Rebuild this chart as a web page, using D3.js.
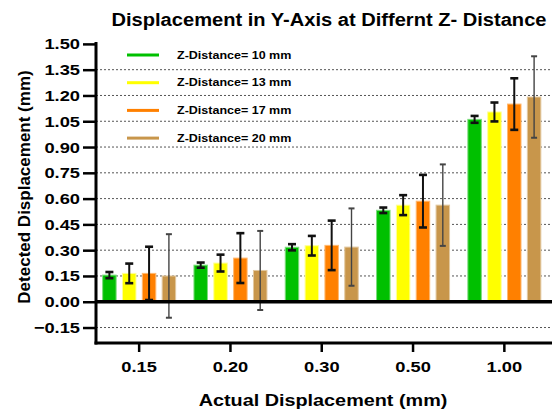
<!DOCTYPE html>
<html>
<head>
<meta charset="utf-8">
<script src="https://cdn.jsdelivr.net/npm/d3@7"></script>
<style>
  html, body { margin: 0; padding: 0; background: #fff; }
  svg { display: block; font-family: "Liberation Sans", Arial, sans-serif; }
</style>
</head>
<body>
<svg id="chart" width="552" height="411"></svg>
<script>
// Actual displacement categories (mm)
const categories = ["0.15", "0.20", "0.30", "0.50", "1.00"];
// Series names (Z-distance)
const seriesNames = ["Z-Distance= 10 mm", "Z-Distance= 13 mm", "Z-Distance= 17 mm", "Z-Distance= 20 mm"];
// Mean detected displacement per series (mm)
const z10 = [0.155, 0.213, 0.317, 0.532, 1.061];
const z13 = [0.165, 0.225, 0.326, 0.562, 1.104];
const z17 = [0.165, 0.254, 0.328, 0.585, 1.150];
const z20 = [0.150, 0.182, 0.318, 0.562, 1.191];
// Error (± SD) per series
const z10Err = [0.018, 0.015, 0.018, 0.016, 0.020];
const z13Err = [0.057, 0.049, 0.057, 0.058, 0.055];
const z17Err = [0.155, 0.145, 0.144, 0.153, 0.150];
const z20Err = [0.243, 0.230, 0.225, 0.237, 0.237];
// Y tick values
const yTicks = [-0.15, 0, 0.15, 0.30, 0.45, 0.60, 0.75, 0.90, 1.05, 1.20, 1.35, 1.50];

const values = [z10, z13, z17, z20];
const errors = [z10Err, z13Err, z17Err, z20Err];
const fills = ["#00c000", "#ffff00", "#ff8000", "#c8964b"];
const edges = ["#7ddc7d", "#ffff99", "#ffb870", "#e2c8a0"];
const errColors = ["#111", "#111", "#111", "#444"];
const errWidths = [2, 2, 2, 1.4];
const WIDE = 1.18; // horizontal widening of the bold labels

// widen text horizontally, keeping its anchor
function widen(sel, f) {
  sel.each(function () {
    const len = this.getComputedTextLength();
    d3.select(this).attr("textLength", len * f).attr("lengthAdjust", "spacingAndGlyphs");
  });
}

const svg = d3.select("#chart");

const y = d3.scaleLinear().domain([-0.24, 1.5]).range([343, 43.9]);
const x0 = d3.scaleBand().domain(categories).range([93.5, 550]).padding(0);
const x1 = d3.scaleBand().domain(d3.range(4)).range([-36.5, 36.5]).paddingInner(0.32);

// Dotted gridlines
svg.append("g").selectAll("line")
  .data(yTicks.filter(t => t !== 0 && t !== 1.5))
  .join("line")
  .attr("x1", 96).attr("x2", 552)
  .attr("y1", d => y(d)).attr("y2", d => y(d))
  .attr("stroke", "#555").attr("stroke-width", 1)
  .attr("stroke-dasharray", "2,2");

// Bars
const rows = [];
categories.forEach((c, i) => {
  values.forEach((s, k) => rows.push({ c, k, v: s[i], e: errors[k][i] }));
});

svg.append("g").selectAll("rect")
  .data(rows)
  .join("rect")
  .attr("x", d => x0(d.c) + x0.bandwidth() / 2 + x1(d.k))
  .attr("width", x1.bandwidth())
  .attr("y", d => y(d.v))
  .attr("height", d => y(0) - y(d.v))
  .attr("fill", d => fills[d.k])
  .attr("stroke", d => edges[d.k])
  .attr("stroke-width", 1);

// Error bars
const eb = svg.append("g");
rows.forEach(d => {
  const cx = x0(d.c) + x0.bandwidth() / 2 + x1(d.k) + x1.bandwidth() / 2;
  const col = errColors[d.k], w = errWidths[d.k];
  const cap = d.k === 3 ? 3 : 4;
  eb.append("line").attr("x1", cx).attr("x2", cx)
    .attr("y1", y(d.v + d.e)).attr("y2", y(d.v - d.e))
    .attr("stroke", col).attr("stroke-width", w);
  [d.v + d.e, d.v - d.e].forEach(t => {
    eb.append("line").attr("x1", cx - cap).attr("x2", cx + cap)
      .attr("y1", y(t)).attr("y2", y(t))
      .attr("stroke", col).attr("stroke-width", w + 0.6);
  });
});

// Zero line
svg.append("line")
  .attr("x1", 96).attr("x2", 552)
  .attr("y1", y(0)).attr("y2", y(0))
  .attr("stroke", "#000").attr("stroke-width", 3.5);

// Y axis
const yAxis = svg.append("g")
  .attr("transform", "translate(96,0)")
  .call(d3.axisLeft(y).tickValues(yTicks).tickFormat(d3.format(".2f")).tickSize(13).tickSizeOuter(0));
yAxis.select(".domain").attr("stroke-width", 3).attr("d", `M0,${y(1.5) - 2}V${y(-0.24) + 1.5}`);
yAxis.selectAll(".tick line").attr("stroke-width", 2.5);
yAxis.selectAll(".tick text")
  .attr("x", -16)
  .attr("font-size", 15.5).attr("font-weight", "bold")
  .attr("font-family", "Liberation Sans, Arial, sans-serif").attr("fill", "#000")
  .call(widen, WIDE);

// X axis
const xAxis = svg.append("g")
  .attr("transform", `translate(0,${y(-0.24)})`)
  .call(d3.axisBottom(x0).tickSize(9).tickSizeOuter(0));
xAxis.select(".domain").attr("stroke-width", 3).attr("d", "M94.5,0H552");
xAxis.selectAll(".tick line").attr("stroke-width", 2.5);
xAxis.selectAll(".tick text")
  .attr("y", 18)
  .attr("font-size", 15.5).attr("font-weight", "bold")
  .attr("font-family", "Liberation Sans, Arial, sans-serif").attr("fill", "#000")
  .call(widen, WIDE);

// Legend
const leg = svg.append("g");
seriesNames.forEach((n, k) => {
  const ly = 55 + k * 27.7;
  leg.append("line").attr("x1", 127).attr("x2", 159).attr("y1", ly).attr("y2", ly)
    .attr("stroke", fills[k]).attr("stroke-width", 3);
  leg.append("text").attr("x", 177).attr("y", ly).attr("dy", "0.35em")
    .attr("font-size", 10.7).attr("font-weight", "bold").attr("fill", "#000")
    .text(n)
    .call(widen, 1.17);
});

// Titles
svg.append("text")
  .attr("x", 329).attr("y", 26)
  .attr("text-anchor", "middle")
  .attr("font-size", 18).attr("font-weight", "bold")
  .attr("textLength", 435).attr("lengthAdjust", "spacingAndGlyphs")
  .text("Displacement in Y-Axis at Differnt Z- Distance");

svg.append("text")
  .attr("x", 323).attr("y", 406)
  .attr("text-anchor", "middle")
  .attr("font-size", 16.8).attr("font-weight", "bold")
  .text("Actual Displacement (mm)")
  .call(widen, WIDE);

svg.append("text")
  .attr("transform", "translate(30,187) rotate(-90)")
  .attr("text-anchor", "middle")
  .attr("font-size", 17).attr("font-weight", "bold")
  .text("Detected Displacement (mm)");
</script>
</body>
</html>
